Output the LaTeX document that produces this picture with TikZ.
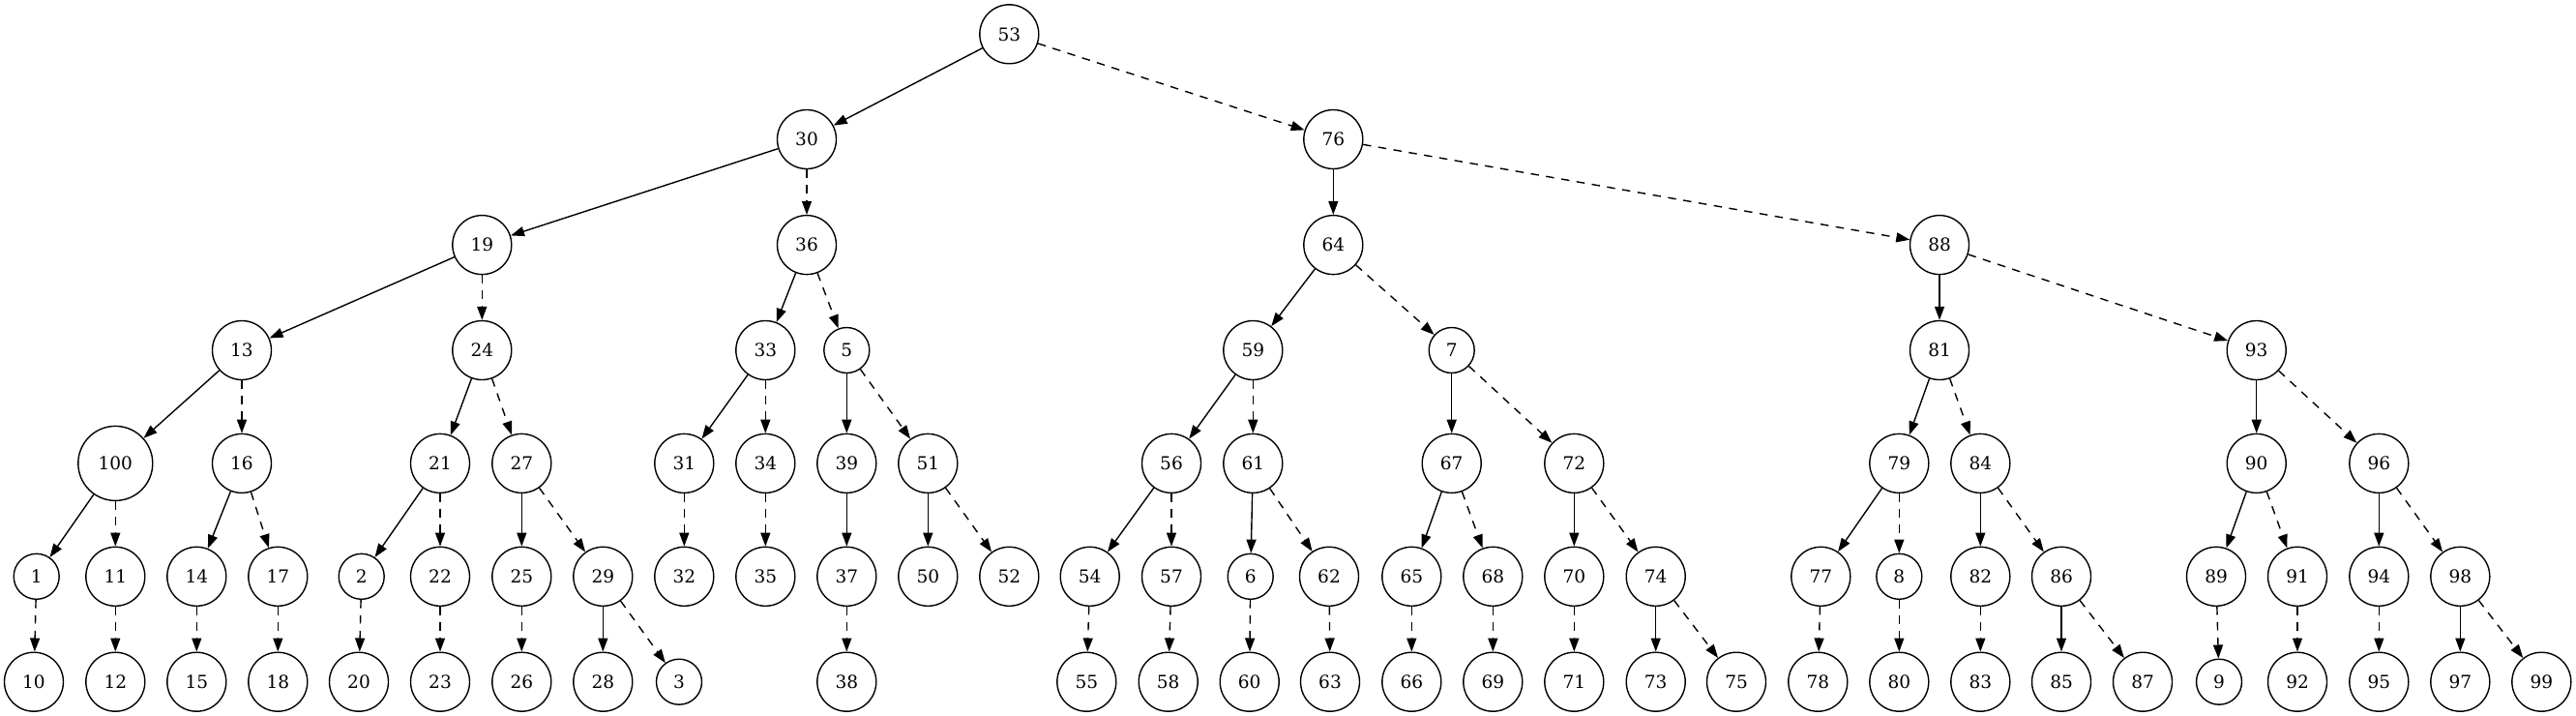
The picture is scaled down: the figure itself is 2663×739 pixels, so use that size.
\documentclass[tikz,border=0pt]{standalone}
\usepackage{fontspec}
\newfontfamily\nf{DejaVu Serif}
\usetikzlibrary{arrows.meta}
\tikzset{
  nd/.style={circle, draw, line width=1.4pt, inner sep=0pt, font={\nf\fontsize{18.5}{22}\selectfont}},
  sa/.style={nd, minimum size=47pt},
  sb/.style={nd, minimum size=61pt},
  sc/.style={nd, minimum size=77pt},
  lk/.style={line width=1.4pt, -{Triangle[length=14pt,width=10pt]}},
  rk/.style={lk, dash pattern=on 8.5pt off 7.5pt},
}
\begin{document}
\begin{tikzpicture}[x=1pt,y=-1pt]
\useasboundingbox (0,0) rectangle (2663,739);
% row 0
\node[sb] (n53) at (1043.3,35.3) {53};
% row 1
\node[sb] (n30) at (834,144) {30};
\node[sb] (n76) at (1378.3,144) {76};
% row 2
\node[sb] (n19) at (498.3,253.1) {19};
\node[sb] (n36) at (834,253.1) {36};
\node[sb] (n64) at (1378.3,253.1) {64};
\node[sb] (n88) at (2005,253.1) {88};
% row 3
\node[sb] (n13) at (250,362) {13};
\node[sb] (n24) at (498.3,362) {24};
\node[sb] (n33) at (791.3,362) {33};
\node[sa] (n5) at (875.3,362) {5};
\node[sb] (n59) at (1295.3,362) {59};
\node[sa] (n7) at (1500.7,362) {7};
\node[sb] (n81) at (2005,362) {81};
\node[sb] (n93) at (2332.7,362) {93};
% row 4
\node[sc] (n100) at (119.3,478.9) {100};
\node[sb] (n16) at (250,478.9) {16};
\node[sb] (n21) at (455,478.9) {21};
\node[sb] (n27) at (539.3,478.9) {27};
\node[sb] (n31) at (707.3,478.9) {31};
\node[sb] (n34) at (791.3,478.9) {34};
\node[sb] (n39) at (875.3,478.9) {39};
\node[sb] (n51) at (959.3,478.9) {51};
\node[sb] (n56) at (1211,478.9) {56};
\node[sb] (n61) at (1295.3,478.9) {61};
\node[sb] (n67) at (1500.7,478.9) {67};
\node[sb] (n72) at (1627.3,478.9) {72};
\node[sb] (n79) at (1963.3,478.9) {79};
\node[sb] (n84) at (2047.3,478.9) {84};
\node[sb] (n90) at (2332.7,478.9) {90};
\node[sb] (n96) at (2459.3,478.9) {96};
% row 5
\node[sa] (n1) at (37.7,595.8) {1};
\node[sb] (n11) at (119.3,595.8) {11};
\node[sb] (n14) at (203.3,595.8) {14};
\node[sb] (n17) at (287.3,595.8) {17};
\node[sa] (n2) at (373.7,595.8) {2};
\node[sb] (n22) at (455,595.8) {22};
\node[sb] (n25) at (539.3,595.8) {25};
\node[sb] (n29) at (623.3,595.8) {29};
\node[sb] (n32) at (707.3,595.8) {32};
\node[sb] (n35) at (791.3,595.8) {35};
\node[sb] (n37) at (875.3,595.8) {37};
\node[sb] (n50) at (959.3,595.8) {50};
\node[sb] (n52) at (1043.3,595.8) {52};
\node[sb] (n54) at (1126.7,595.8) {54};
\node[sb] (n57) at (1211,595.8) {57};
\node[sa] (n6) at (1292.7,595.8) {6};
\node[sb] (n62) at (1374,595.8) {62};
\node[sb] (n65) at (1459.3,595.8) {65};
\node[sb] (n68) at (1543.3,595.8) {68};
\node[sb] (n70) at (1627.3,595.8) {70};
\node[sb] (n74) at (1711.7,595.8) {74};
\node[sb] (n77) at (1882.3,595.8) {77};
\node[sa] (n8) at (1963.3,595.8) {8};
\node[sb] (n82) at (2047.3,595.8) {82};
\node[sb] (n86) at (2131,595.8) {86};
\node[sb] (n89) at (2291,595.8) {89};
\node[sb] (n91) at (2375,595.8) {91};
\node[sb] (n94) at (2459.3,595.8) {94};
\node[sb] (n98) at (2543.3,595.8) {98};
% row 6
\node[sb] (n10) at (35,704.7) {10};
\node[sb] (n12) at (119.3,704.7) {12};
\node[sb] (n15) at (203.3,704.7) {15};
\node[sb] (n18) at (287.3,704.7) {18};
\node[sb] (n20) at (371,704.7) {20};
\node[sb] (n23) at (455,704.7) {23};
\node[sb] (n26) at (539.3,704.7) {26};
\node[sb] (n28) at (623.3,704.7) {28};
\node[sa] (n3) at (702,704.7) {3};
\node[sb] (n38) at (875.3,704.7) {38};
\node[sb] (n55) at (1123.3,704.7) {55};
\node[sb] (n58) at (1207.7,704.7) {58};
\node[sb] (n60) at (1291.7,704.7) {60};
\node[sb] (n63) at (1375,704.7) {63};
\node[sb] (n66) at (1459.3,704.7) {66};
\node[sb] (n69) at (1543.3,704.7) {69};
\node[sb] (n71) at (1627.3,704.7) {71};
\node[sb] (n73) at (1711.7,704.7) {73};
\node[sb] (n75) at (1795,704.7) {75};
\node[sb] (n78) at (1879.3,704.7) {78};
\node[sb] (n80) at (1963.3,704.7) {80};
\node[sb] (n83) at (2047.3,704.7) {83};
\node[sb] (n85) at (2131,704.7) {85};
\node[sb] (n87) at (2215,704.7) {87};
\node[sa] (n9) at (2294,704.7) {9};
\node[sb] (n92) at (2375,704.7) {92};
\node[sb] (n95) at (2459.3,704.7) {95};
\node[sb] (n97) at (2543.3,704.7) {97};
\node[sb] (n99) at (2627.3,704.7) {99};
% solid edges
\foreach \a/\b in {53/30,30/19,76/64,19/13,36/33,64/59,88/81,13/100,24/21,33/31,5/39,59/56,7/67,81/79,93/90,
  100/1,16/14,21/2,27/25,39/37,51/50,56/54,61/6,67/65,72/70,79/77,84/82,90/89,96/94,29/28,74/73,86/85,98/97}
  \draw[lk] (n\a) -- (n\b);
% dashed edges
\foreach \a/\b in {53/76,30/36,76/88,19/24,36/5,64/7,88/93,13/16,24/27,33/34,5/51,59/61,7/72,81/84,93/96,
  100/11,16/17,21/22,27/29,31/32,34/35,51/52,56/57,61/62,67/68,72/74,79/8,84/86,90/91,96/98,
  1/10,11/12,14/15,17/18,2/20,22/23,25/26,29/3,37/38,54/55,57/58,6/60,62/63,65/66,68/69,70/71,74/75,
  77/78,8/80,82/83,86/87,89/9,91/92,94/95,98/99}
  \draw[rk] (n\a) -- (n\b);
\end{tikzpicture}
\end{document}
